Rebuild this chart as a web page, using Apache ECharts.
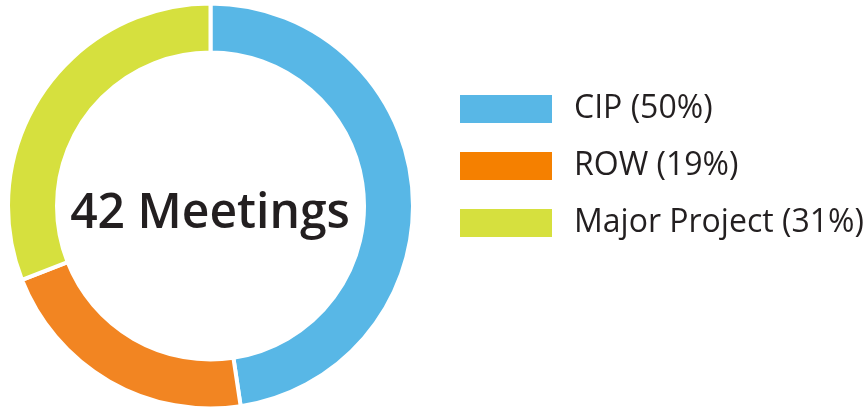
<!DOCTYPE html>
<html>
<head>
<meta charset="utf-8">
<script src="https://cdn.jsdelivr.net/npm/echarts@6/dist/echarts.min.js"></script>
<style>
  html, body { margin: 0; padding: 0; background: #fff; }
  #main { width: 866px; height: 408px; }
</style>
</head>
<body>
<div id="main"></div>
<script>
// meeting counts per type (42 in total)
var categories = ["CIP", "ROW", "Major Project"];
var counts = [20, 9, 13];
var legendLabels = ["CIP (50%)", "ROW (19%)", "Major Project (31%)"];
var sliceColors = ["#58B7E6", "#F28522", "#D6E03E"];
var legendColors = ["#58B7E6", "#F58000", "#D6E03E"];
var totalLabel = "42 Meetings";

var chart = echarts.init(document.getElementById("main"));

var pieData = [];
var legendData = [];
for (var i = 0; i < categories.length; i++) {
  pieData.push({
    name: categories[i],
    value: counts[i],
    itemStyle: { color: sliceColors[i] }
  });
  legendData.push({
    name: categories[i],
    itemStyle: { color: legendColors[i] }
  });
}

chart.setOption({
  animation: false,
  textStyle: { fontFamily: "Open Sans" },
  legend: {
    orient: "vertical",
    left: 458,
    top: 93,
    padding: 0,
    itemWidth: 94,
    itemHeight: 30,
    itemGap: 25,
    icon: "rect",
    data: legendData,
    formatter: function (name) {
      return legendLabels[categories.indexOf(name)];
    },
    textStyle: {
      fontSize: 32,
      color: "#231F20",
      fontFamily: "Open Sans",
      padding: [0, 0, 0, 16]
    }
  },
  graphic: [
    {
      type: "text",
      x: 210,
      y: 214,
      style: {
        text: totalLabel,
        fontSize: 48,
        fontWeight: 600,
        fontFamily: "Open Sans",
        fill: "#231F20",
        textAlign: "center",
        textVerticalAlign: "middle"
      }
    }
  ],
  series: [
    {
      type: "pie",
      center: [210.5, 206],
      radius: [153.5, 202.5],
      startAngle: 90,
      clockwise: true,
      label: { show: false },
      labelLine: { show: false },
      itemStyle: { borderColor: "#fff", borderWidth: 4 },
      emphasis: { disabled: true },
      data: pieData
    }
  ]
});
</script>
</body>
</html>
